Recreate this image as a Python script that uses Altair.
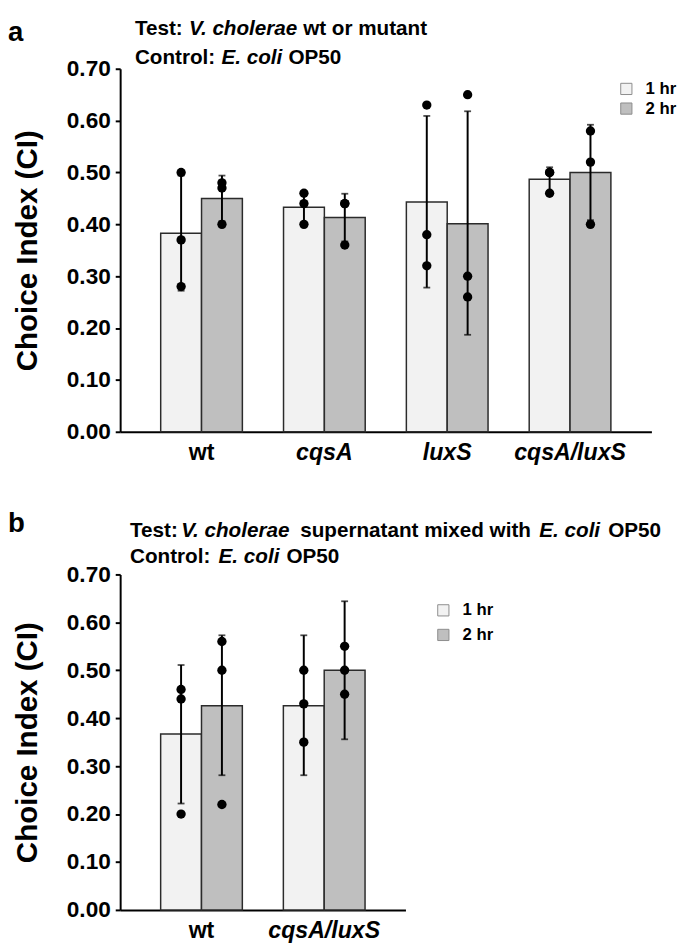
import altair as alt
import pandas as pd

# ---------------- data ----------------
times = ["1 hr", "2 hr"]
y_ticks = [0.0, 0.1, 0.2, 0.3, 0.4, 0.5, 0.6, 0.7]

# panel a
groups_a = ["wt", "cqsA", "luxS", "cqsA/luxS"]
mean_a_1hr = [0.383, 0.433, 0.443, 0.487]
mean_a_2hr = [0.450, 0.413, 0.401, 0.500]
lo_a_1hr = [0.272, 0.403, 0.278, 0.464]
hi_a_1hr = [0.494, 0.464, 0.609, 0.510]
lo_a_2hr = [0.406, 0.367, 0.187, 0.408]
hi_a_2hr = [0.494, 0.459, 0.618, 0.592]
pts_a_1hr = [[0.50, 0.37, 0.28], [0.46, 0.44, 0.40], [0.63, 0.38, 0.32], [0.50, 0.50, 0.46]]
pts_a_2hr = [[0.48, 0.47, 0.40], [0.44, 0.44, 0.36], [0.65, 0.30, 0.26], [0.58, 0.52, 0.40]]

# panel b
groups_b = ["wt", "cqsA/luxS"]
mean_b_1hr = [0.367, 0.426]
mean_b_2hr = [0.426, 0.500]
lo_b_1hr = [0.222, 0.281]
hi_b_1hr = [0.511, 0.573]
lo_b_2hr = [0.281, 0.356]
hi_b_2hr = [0.573, 0.644]
pts_b_1hr = [[0.46, 0.44, 0.20], [0.50, 0.43, 0.35]]
pts_b_2hr = [[0.56, 0.50, 0.22], [0.55, 0.50, 0.45]]

FONT = "Liberation Sans, Arial, Helvetica, sans-serif"
NO_BORDER = alt.ViewBackground(strokeOpacity=0, strokeWidth=0)


def tables(groups, m1, m2, l1, h1, l2, h2, p1, p2):
    bars, pts = [], []
    for i, g in enumerate(groups):
        bars.append({"group": g, "time": times[0], "mean": m1[i], "lo": l1[i], "hi": h1[i]})
        bars.append({"group": g, "time": times[1], "mean": m2[i], "lo": l2[i], "hi": h2[i]})
        for v in p1[i]:
            pts.append({"group": g, "time": times[0], "value": v})
        for v in p2[i]:
            pts.append({"group": g, "time": times[1], "value": v})
    return pd.DataFrame(bars), pd.DataFrame(pts)


def text_layer(txt, x, y, italic=False, size=21, baseline="middle"):
    return alt.Chart(pd.DataFrame({"t": [txt]})).mark_text(
        align="left", baseline=baseline, font=FONT, fontSize=size,
        fontWeight="bold", fontStyle="italic" if italic else "normal", color="black"
    ).encode(text="t:N", x=alt.value(x), y=alt.value(y))


def panel(groups, data, w, h, segments, letter, leg_x, leg_y, leg_rowpad):
    bars_df, pts_df = data
    x_axis = alt.Axis(
        title=None, labelAngle=0, ticks=False, labelPadding=9, grid=False,
        domainColor="black", domainWidth=2,
        labelFont=FONT, labelFontSize=23.5, labelFontWeight="bold", labelColor="black",
        labelFontStyle=alt.ExprRef(expr="datum.value == 'wt' ? 'normal' : 'italic'"),
    )
    x_enc = alt.X("group:N", sort=groups,
                  scale=alt.Scale(paddingInner=0.335, paddingOuter=0.33), axis=x_axis)
    xo = alt.XOffset("time:N", sort=times, scale=alt.Scale(paddingInner=0, paddingOuter=0))
    y_axis = alt.Axis(
        values=y_ticks, format=".2f", grid=False, title="Choice Index (CI)",
        tickSize=5, tickWidth=2, tickColor="black", domainColor="black", domainWidth=2,
        labelFont=FONT, labelFontSize=23, labelFontWeight="bold", labelColor="black", labelPadding=5,
        titleFont=FONT, titleFontSize=30, titleFontWeight="bold", titleColor="black", titlePadding=24,
    )
    y_scale = alt.Scale(domain=[0, 0.7], nice=False)

    bars = alt.Chart(bars_df).mark_bar(stroke="#2b2b2b", strokeWidth=1.5).encode(
        x=x_enc, xOffset=xo,
        y=alt.Y("mean:Q", scale=y_scale, axis=y_axis),
        fill=alt.Fill(
            "time:N", sort=times,
            scale=alt.Scale(domain=times, range=["#f2f2f2", "#bfbfbf"]),
            legend=alt.Legend(
                title=None, orient="none", legendX=leg_x, legendY=leg_y,
                symbolType="square", symbolSize=130, symbolStrokeColor="#8c8c8c",
                symbolStrokeWidth=1, labelFont=FONT, labelFontSize=17,
                labelFontWeight="bold", labelColor="black", labelOffset=11,
                rowPadding=leg_rowpad, padding=0,
            ),
        ),
    )
    err = alt.Chart(bars_df).mark_rule(color="black", strokeWidth=2).encode(
        x=alt.X("group:N", sort=groups, axis=x_axis), xOffset=xo,
        y=alt.Y("lo:Q", scale=y_scale, axis=y_axis), y2="hi:Q",
    )
    cap_hi = alt.Chart(bars_df).mark_tick(color="black", size=7, thickness=1.8).encode(
        x=alt.X("group:N", sort=groups, axis=x_axis), xOffset=xo,
        y=alt.Y("hi:Q", scale=y_scale, axis=y_axis),
    )
    cap_lo = alt.Chart(bars_df).mark_tick(color="black", size=7, thickness=1.8).encode(
        x=alt.X("group:N", sort=groups, axis=x_axis), xOffset=xo,
        y=alt.Y("lo:Q", scale=y_scale, axis=y_axis),
    )
    pts = alt.Chart(pts_df).mark_circle(color="black", opacity=1, size=90).encode(
        x=alt.X("group:N", sort=groups, axis=x_axis), xOffset=xo,
        y=alt.Y("value:Q", scale=y_scale, axis=y_axis),
    )
    texts = [text_layer(*s) for s in segments]
    texts.append(text_layer(letter[0], letter[1], letter[2], False, 28, "alphabetic"))
    return alt.layer(bars, err, cap_hi, cap_lo, pts, *texts).properties(
        width=w, height=h, view=NO_BORDER
    )


seg_a = [
    ("Test:", 15, -40), ("V. cholerae", 70, -40, True), ("wt or mutant", 186, -40),
    ("Control:", 15, -11), ("E. coli", 103, -11, True), ("OP50", 171, -11),
]
seg_b = [
    ("Test:", 10, -44), ("V. cholerae", 62, -44, True), ("supernatant mixed with", 183, -44),
    ("E. coli", 426, -44, True), ("OP50", 496, -44),
    ("Control:", 10, -18), ("E. coli", 100, -18, True), ("OP50", 169, -18),
]

pa = panel(groups_a, tables(groups_a, mean_a_1hr, mean_a_2hr, lo_a_1hr, hi_a_1hr,
                            lo_a_2hr, hi_a_2hr, pts_a_1hr, pts_a_2hr),
           540, 369, seg_a, ("a", -114, -28), 506, 12, 2)
pb = panel(groups_b, tables(groups_b, mean_b_1hr, mean_b_2hr, lo_b_1hr, hi_b_1hr,
                            lo_b_2hr, hi_b_2hr, pts_b_1hr, pts_b_2hr),
           290, 341, seg_b, ("b", -114, -43), 320, 28, 7)

chart = alt.vconcat(pa, pb, spacing=145, bounds="flush").resolve_legend(
    fill="independent"
).properties(
    padding={"top": 3, "left": 0, "right": 0, "bottom": 0},
    background="white",
).configure_view(strokeOpacity=0, strokeWidth=0)

chart.save("out.html", embed_options={"renderer": "svg", "actions": False})
